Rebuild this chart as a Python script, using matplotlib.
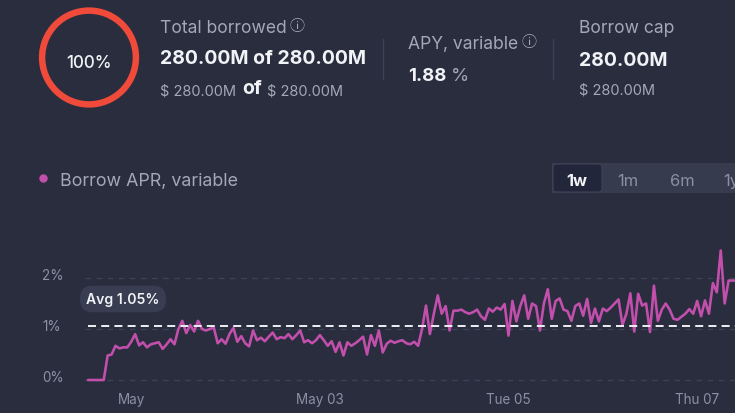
import matplotlib
matplotlib.use("Agg")
import matplotlib.pyplot as plt
import matplotlib.dates as mdates
from matplotlib.patches import Circle, FancyBboxPatch, Rectangle
from matplotlib.transforms import ScaledTranslation
import pandas as pd

# ---------------- data ----------------
start_time = "2026-04-30 13:00"
apr_values = [
    0.00, 0.00, 0.00, 0.00, 0.00, 0.48, 0.50, 0.67, 0.62, 0.64,
    0.64, 0.75, 0.90, 0.68, 0.74, 0.64, 0.70, 0.72, 0.74, 0.61,
    0.70, 0.80, 0.70, 1.00, 1.16, 0.92, 1.08, 0.95, 1.16, 1.00,
    0.97, 1.00, 1.03, 0.72, 0.80, 0.71, 0.90, 1.02, 0.75, 0.86,
    0.72, 0.66, 0.97, 0.78, 0.83, 0.76, 0.85, 0.93, 0.80, 0.84,
    0.82, 0.90, 0.80, 0.88, 0.97, 0.74, 0.78, 0.72, 0.78, 0.88,
    0.78, 0.67, 0.76, 0.55, 0.74, 0.48, 0.74, 0.67, 0.72, 0.78,
    0.85, 0.50, 0.88, 0.67, 0.97, 0.54, 0.71, 0.77, 0.73, 0.76,
    0.78, 0.72, 0.70, 0.75, 0.67, 1.00, 1.46, 0.90, 1.30, 1.66,
    1.30, 1.45, 0.97, 1.36, 1.36, 1.38, 1.33, 1.30, 1.33, 1.38,
    1.25, 1.18, 1.40, 1.34, 1.42, 1.38, 1.49, 0.87, 1.55, 1.15,
    1.45, 1.66, 1.20, 1.50, 1.45, 0.97, 1.50, 1.78, 1.20, 1.55,
    1.60, 1.38, 1.35, 1.16, 1.45, 1.50, 1.26, 1.59, 1.12, 1.40,
    1.15, 1.40, 1.35, 1.42, 1.50, 1.58, 1.08, 1.30, 1.70, 0.95,
    1.69, 1.46, 1.50, 0.94, 1.85, 1.16, 1.38, 1.50, 1.38, 1.20,
    1.18, 1.24, 1.30, 1.39, 1.30, 1.55, 1.25, 1.56, 1.30, 1.90,
    1.72, 2.54, 1.50, 1.95, 1.95, 1.95,
]
avg_value = 1.05
ytick_values = [0, 1, 2]
ytick_labels = ["0%", "1%", "2%"]
xtick_dates = ["2026-05-01", "2026-05-03", "2026-05-05", "2026-05-07"]
xtick_labels = ["May", "May 03", "Tue 05", "Thu 07"]
period_buttons = ["1w", "1m", "6m", "1y"]

# ---------------- style ----------------
W, H = 735, 414
BG = "#292d3e"
PINK = "#c24fac"
GREY = "#a3a7b8"
TICK = "#8c90a3"
WHITE = "#f2f3f7"
FONT = ["Inter", "DejaVu Sans", "Noto Sans CJK SC"]
plt.rcParams["font.family"] = FONT

def pt(px):
    return px * 0.72

def fx(px):
    return px / W

def fy(py):
    return 1 - py / H

def ty(py):
    # text centre correction (matplotlib centres the full bbox incl. descenders)
    return fy(py + 2.5)

fig = plt.figure(figsize=(W / 100, H / 100), dpi=100, facecolor=BG)

# ---------------- header ----------------
cax = fig.add_axes([fx(36), fy(111.5), 106 / W, 106 / H])
cax.set_xlim(-1, 1); cax.set_ylim(-1, 1); cax.set_aspect("equal"); cax.axis("off")
cax.add_patch(Circle((0, 0), 0.885, fill=False, lw=pt(6.5), ec="#ef4a3a"))
fig.text(fx(89), ty(61), "100%", color=WHITE, fontsize=pt(17), ha="center", va="center", fontweight="medium")

fig.text(fx(160), ty(26), "Total borrowed", color=GREY, fontsize=pt(17.5), ha="left", va="center")
fig.text(fx(289), ty(25), "ⓘ", color=GREY, fontsize=pt(15), ha="left", va="center")
fig.text(fx(160), ty(57), "280.00M of 280.00M", color=WHITE, fontsize=pt(19.5), ha="left", va="center", fontweight="bold")
fig.text(fx(160), ty(89), "$ 280.00M", color=GREY, fontsize=pt(14.6), ha="left", va="center")
fig.text(fx(242), ty(87), "of", color=WHITE, fontsize=pt(19.5), ha="left", va="center", fontweight="bold")
fig.text(fx(267), ty(89), "$ 280.00M", color=GREY, fontsize=pt(14.6), ha="left", va="center")

for xs in (383, 553):
    fig.add_artist(plt.Line2D([fx(xs), fx(xs)], [fy(40), fy(80)], color="#3c4155", lw=1))

fig.text(fx(408), ty(42), "APY, variable", color=GREY, fontsize=pt(17.5), ha="left", va="center")
fig.text(fx(522), ty(41), "ⓘ", color=GREY, fontsize=pt(15), ha="left", va="center")
fig.text(fx(408), ty(74), "1.88", color=WHITE, fontsize=pt(18.5), ha="left", va="center", fontweight="bold")
fig.text(fx(451), ty(74), "%", color=GREY, fontsize=pt(18.5), ha="left", va="center")

fig.text(fx(579), ty(26), "Borrow cap", color=GREY, fontsize=pt(17.5), ha="left", va="center")
fig.text(fx(579), ty(58), "280.00M", color=WHITE, fontsize=pt(19.5), ha="left", va="center", fontweight="bold")
fig.text(fx(579), ty(88), "$ 280.00M", color=GREY, fontsize=pt(14.6), ha="left", va="center")

# ---------------- legend + buttons ----------------
fig.add_artist(plt.Line2D([fx(43)], [fy(179)], marker="o", markersize=pt(7), color=PINK, lw=0))
fig.text(fx(60), ty(179), "Borrow APR, variable", color=GREY, fontsize=pt(17.8), ha="left", va="center")

fig.add_artist(Rectangle((fx(552), fy(194)), (W - 552) / W, 30 / H, transform=fig.transFigure,
                         facecolor="#363b4e", edgecolor="none"))
fig.add_artist(FancyBboxPatch((fx(553), fy(193)), 49 / W, 28 / H, transform=fig.transFigure,
                              boxstyle="round,pad=0,rounding_size=0.006", facecolor="#22263a",
                              edgecolor="#3e4357", lw=0.8))
for lbl, xs, col in zip(period_buttons, [577, 628, 682, 731], [WHITE, TICK, TICK, TICK]):
    fig.text(fx(xs), ty(179), lbl, color=col, fontsize=pt(16.5), ha="center", va="center",
             fontweight="bold" if col == WHITE else "normal")

# ---------------- chart ----------------
times = pd.date_range(start_time, periods=len(apr_values), freq="h")
ax = fig.add_axes([fx(85), fy(392), (W - 85) / W, (392 - 245) / H])
ax.set_facecolor(BG)
px_per_hour = 3.93
x0 = mdates.date2num(times[0])
ax.set_xlim(x0 - 3 / px_per_hour / 24, x0 + (735 - 88) / px_per_hour / 24)
ax.set_ylim(-(392 - 381) / 51, (381 - 245) / 51)

for v in ytick_values:
    ax.axhline(v, color="#3d4256", lw=1, ls=(0, (4, 4)), zorder=1)

ax.plot(times, apr_values, color=PINK, lw=pt(2.6), zorder=3, solid_joinstyle="round",
        solid_capstyle="round")
ax.axhline(avg_value, xmin=3 / 650, color="#e9eaf0", lw=pt(2), ls=(0, (4, 2.6)), zorder=4)

ax.set_yticks(ytick_values)
ax.set_yticklabels(ytick_labels)
ax.set_xticks([mdates.date2num(pd.Timestamp(d)) for d in xtick_dates])
ax.set_xticklabels(xtick_labels)
ax.tick_params(axis="both", length=0, colors=TICK, labelsize=pt(13.5))
ax.tick_params(axis="x", pad=pt(1.5))
ax.tick_params(axis="y", pad=pt(43))
shift_up = ScaledTranslation(0, 4 / 100, fig.dpi_scale_trans)
for lab in ax.get_yticklabels():
    lab.set_horizontalalignment("left")
    lab.set_transform(lab.get_transform() + shift_up)
for s in ax.spines.values():
    s.set_visible(False)

fig.text(fx(123), fy(300), "Avg 1.05%", color=WHITE, fontsize=pt(14), ha="center", va="center",
         fontweight="semibold",
         bbox=dict(boxstyle="round,pad=0.45,rounding_size=0.9", facecolor="#383d51", edgecolor="none"))

fig.savefig("out.png", dpi=100, facecolor=BG)
